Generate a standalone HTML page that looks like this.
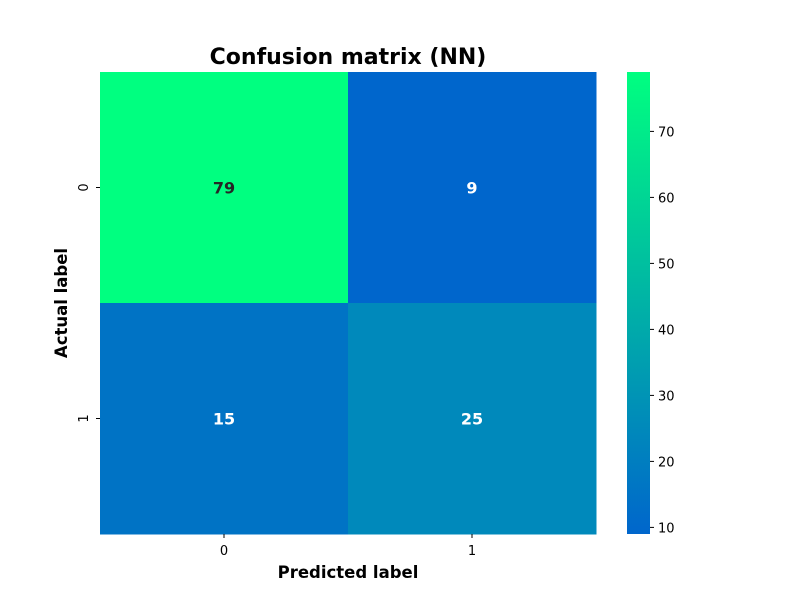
<!DOCTYPE html>
<html><head><meta charset="utf-8"><style>body{margin:0;background:#fff}svg{display:block;font-family:"DejaVu Sans","Liberation Sans",sans-serif}</style></head>
<body>
<svg id="chart" width="800" height="600">
<defs><linearGradient id="cg" x1="0" y1="1" x2="0" y2="0"><stop offset="0" stop-color="rgb(0,102,204)"/><stop offset="1" stop-color="rgb(0,255,128)"/></linearGradient></defs>
<text x="348" y="64" text-anchor="middle" font-size="22" font-weight="bold">Confusion matrix (NN)</text>
<g id="cells"></g>
<rect x="627" y="72" width="23" height="462" fill="url(#cg)"/>
<g id="cbticks"></g>
<g id="axes"></g>
<text x="348" y="578" text-anchor="middle" font-size="16.5" font-weight="bold">Predicted label</text>
<text transform="translate(67,303) rotate(-90)" text-anchor="middle" font-size="16.5" font-weight="bold">Actual label</text>
</svg>
<script>
const rowLabels=["0","1"];
const colLabels=["0","1"];
const values=[[79,9],[15,25]];
const cbTicks=[10,20,30,40,50,60,70];
const vmin=9, vmax=79;
const NS="http://www.w3.org/2000/svg";
const L=100,T=72,W=496,H=462;
function color(v){const t=(v-vmin)/(vmax-vmin);return `rgb(0,${Math.round(102+153*t)},${Math.round(204-76*t)})`;}
function cbY(v){return T+H-(v-vmin)/(vmax-vmin)*H;}
function mk(tag,attrs,parent){const e=document.createElementNS(NS,tag);for(const k in attrs)e.setAttribute(k,attrs[k]);parent.appendChild(e);return e;}
const cells=document.getElementById('cells'),ax=document.getElementById('axes'),cb=document.getElementById('cbticks');
const cw=W/colLabels.length,ch=H/rowLabels.length;
values.forEach((row,i)=>row.forEach((v,j)=>{
 const r=mk('rect',{x:L+j*cw,y:T+i*ch,width:cw+0.5,height:ch+0.5,fill:color(v)},cells);
 
 
 const t=mk('text',{x:L+j*cw+cw/2,y:T+i*ch+ch/2+6,'text-anchor':'middle','font-size':16,'font-weight':'bold',fill:(v-vmin)/(vmax-vmin)>0.5?'#262626':'#fff'},cells);
 t.textContent=v;
 
 
}));
colLabels.forEach((c,j)=>{const x=L+j*cw+cw/2;
 mk('line',{x1:x,x2:x,y1:T+H,y2:T+H+4,stroke:'#000'},ax);
 const t=mk('text',{x:x,y:T+H+21,'text-anchor':'middle','font-size':13},ax);t.textContent=c;
 
 });
rowLabels.forEach((c,i)=>{const y=T+i*ch+ch/2;
 mk('line',{x1:L-4,x2:L,y1:y,y2:y,stroke:'#000'},ax);
 const t=mk('text',{transform:`translate(${L-12},${y}) rotate(-90)`,'text-anchor':'middle','font-size':13},ax);t.textContent=c;
 
 });
cbTicks.forEach(v=>{const y=cbY(v);
 mk('line',{x1:650,x2:654,y1:y,y2:y,stroke:'#000'},cb);
 const t=mk('text',{x:658,y:y+5,'font-size':13},cb);t.textContent=v;
 
 });
</script>
</body></html>
